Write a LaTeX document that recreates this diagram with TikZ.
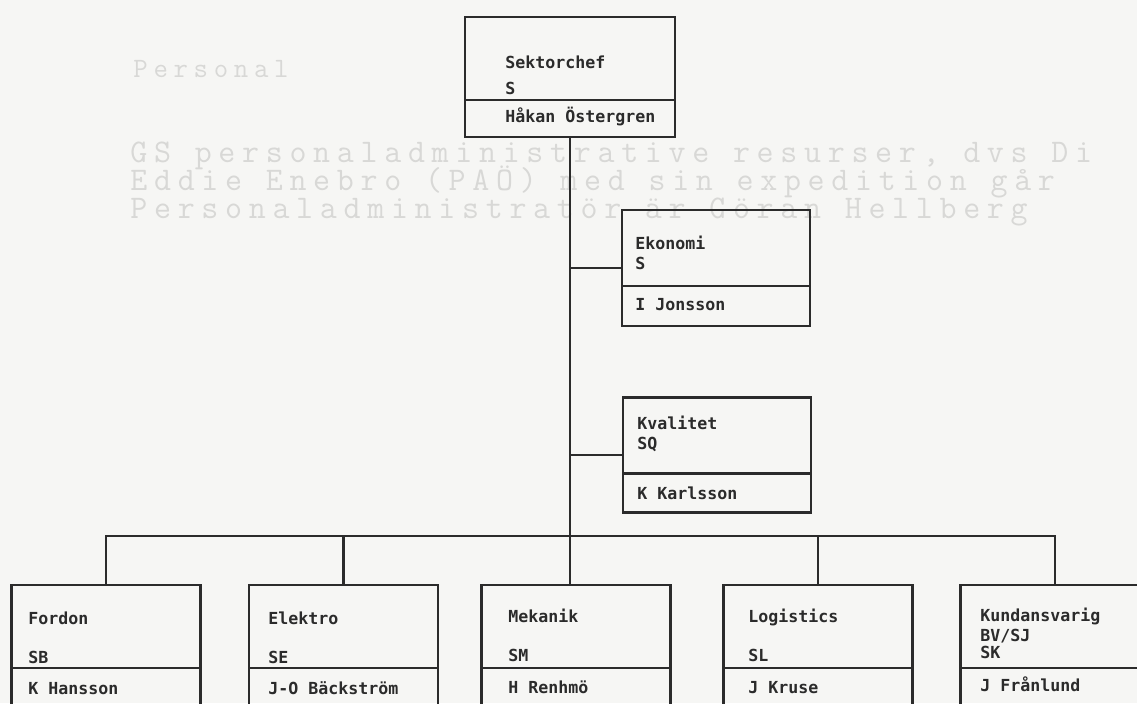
\documentclass[tikz,border=0pt]{standalone}
\usepackage{fontspec}
\newfontfamily\chartfont{DejaVu Sans Mono}
\newfontfamily\backfont[LetterSpace=20.3]{Latin Modern Mono}
\newcommand{\tightlines}{\lineskiplimit=-100pt\relax}
\definecolor{ink}{HTML}{2B2B2B}
\definecolor{paper}{HTML}{F6F6F4}
\definecolor{showthrough}{HTML}{D8D8D6}

\begin{document}
\begin{tikzpicture}
[x=0.5pt, y=-0.5pt,
 every node/.style={align=left},
 box/.style={draw=ink, line width=1.1pt, minimum width=94.5pt, inner sep=0pt},
 strip/.style={box, anchor=south, minimum height=21pt},
 txt/.style={anchor=west, inner sep=0pt, text height=6pt, text depth=0pt,
   text=ink, font=\chartfont\bfseries\fontsize{8.3}{9}\selectfont},
 backtext/.style={anchor=base west, inner sep=0pt, text=showthrough,
   font=\backfont\fontsize{16.5}{14}\selectfont\tightlines},
 link/.style={draw=ink, line width=1.1pt}
]
\fill[paper] (0,0) rectangle (1137,703);
\useasboundingbox (0,0) rectangle (1137,703);
% text from the back of the sheet
\node[backtext, font=\backfont\fontsize{14}{16}\selectfont] (bg0) at (133, 77) {Personal};
\node[backtext] (bg1) at (130, 218) {GS personaladministrative resurser, dvs Di\\
  Eddie Enebro (PAÖ) med sin expedition går\\
  Personaladministratör är Göran Hellberg};
% top
\node[box, minimum width=105pt, minimum height=60pt] (SC) at (570, 77) {};
\node[strip, minimum width=105pt, minimum height=18.5pt] (SCn) at (SC.south) {};
\node[txt] (SCt) at (505, 62)  {Sektorchef};
\node[txt] (SCk) at (505, 88)  {S};
\node[txt] (SCp) at (505, 116) {Håkan Östergren};
% staff
\node[box, minimum width=94pt, minimum height=58pt] (EK) at (716, 268) {};
\node[strip, minimum width=94pt, minimum height=20pt] (EKn) at (EK.south) {};
\node[txt] (EKt) at (635, 243) {Ekonomi};
\node[txt] (EKk) at (635, 263) {S};
\node[txt] (EKp) at (635, 304) {I Jonsson};
\node[box, minimum width=94pt, minimum height=57.5pt] (KV) at (717, 455) {};
\node[strip, minimum width=94pt, minimum height=19.5pt] (KVn) at (KV.south) {};
\node[txt] (KVt) at (637, 423) {Kvalitet};
\node[txt] (KVk) at (637, 443) {SQ};
\node[txt] (KVp) at (637, 493) {K Karlsson};
% line units
\node[box, minimum height=62.5pt] (FO) at ( 106, 647.5) {};
\node[strip] (FOn) at (FO.south) {};
\node[txt] (FOt) at (28, 618) {Fordon};
\node[txt] (FOk) at (28, 657) {SB};
\node[txt] (FOp) at (28, 688) {K Hansson};
\node[box, minimum height=62.5pt] (EL) at ( 343.5, 647.5) {};
\node[strip] (ELn) at (EL.south) {};
\node[txt] (ELt) at (268, 618) {Elektro};
\node[txt] (ELk) at (268, 657) {SE};
\node[txt] (ELp) at (268, 688) {J-O Bäckström};
\node[box, minimum height=62.5pt] (ME) at ( 576, 647.5) {};
\node[strip] (MEn) at (ME.south) {};
\node[txt] (MEt) at (508, 616) {Mekanik};
\node[txt] (MEk) at (508, 655) {SM};
\node[txt] (MEp) at (508, 687) {H Renhmö};
\node[box, minimum height=62.5pt] (LO) at ( 818, 647.5) {};
\node[strip] (LOn) at (LO.south) {};
\node[txt] (LOt) at (748, 616) {Logistics};
\node[txt] (LOk) at (748, 655) {SL};
\node[txt] (LOp) at (748, 687) {J Kruse};
\node[box, minimum height=62.5pt] (KU) at (1055, 647.5) {};
\node[strip] (KUn) at (KU.south) {};
\node[txt] (KUt) at (980, 615) {Kundansvarig};
\node[txt] (KUb) at (980, 635) {BV/SJ};
\node[txt] (KUk) at (980, 652) {SK};
\node[txt] (KUp) at (980, 685) {J Frånlund};
% lines
\coordinate (bus) at (0, 536);
\draw[link] (SC.south) -- (SC.south |- ME.north);
\draw[link] (SC.south |- EK.west) -- (EK.west);
\draw[link] (SC.south |- KV.west) -- (KV.west);
\draw[link] (FO.north) |- (KU.north |- bus) -- (KU.north);
\draw[link] (EL.north) -- (EL.north |- bus);
\draw[link] (LO.north) -- (LO.north |- bus);
\end{tikzpicture}
\end{document}
